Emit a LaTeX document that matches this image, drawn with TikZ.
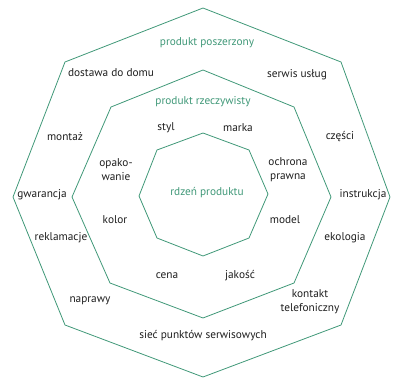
\documentclass[tikz,border=0pt]{standalone}
\usepackage{fontspec}
\setmainfont{PT Sans}
\definecolor{oct}{RGB}{64,152,120}
\definecolor{txt}{RGB}{30,30,30}
\begin{document}
\begin{tikzpicture}[x=1pt,y=-1pt,
  octline/.style={draw=oct,line width=0.8pt,line join=miter},
  lbl/.style={text=txt,font=\fontsize{11.3}{14}\selectfont,inner sep=0pt,align=center},
  glbl/.style={text=oct,font=\fontsize{11.3}{14}\selectfont,inner sep=0pt}]
\useasboundingbox (0,0) rectangle (394,378);
% outer
\coordinate (o1) at (390,197);
\coordinate (o2) at (341,62);
\coordinate (o3) at (203,8);
\coordinate (o4) at (65,62);
\coordinate (o5) at (13,197);
\coordinate (o6) at (65,325);
\coordinate (o7) at (203,377);
\coordinate (o8) at (341,325);
\draw[octline] (o1)--(o2)--(o3)--(o4)--(o5)--(o6)--(o7)--(o8)--cycle;
% middle
\coordinate (m1) at (331,197);
\coordinate (m2) at (294,107);
\coordinate (m3) at (203,70);
\coordinate (m4) at (111,107);
\coordinate (m5) at (72,197);
\coordinate (m6) at (110,283);
\coordinate (m7) at (203,318);
\coordinate (m8) at (294,283);
\draw[octline] (m1)--(m2)--(m3)--(m4)--(m5)--(m6)--(m7)--(m8)--cycle;
% inner
\coordinate (i1) at (268,194);
\coordinate (i2) at (249,150);
\coordinate (i3) at (203,133);
\coordinate (i4) at (157,150);
\coordinate (i5) at (139,196);
\coordinate (i6) at (157,238);
\coordinate (i7) at (203,256);
\coordinate (i8) at (249,238);
\draw[octline] (i1)--(i2)--(i3)--(i4)--(i5)--(i6)--(i7)--(i8)--cycle;
% labels
\node[glbl] (pp) at (207,43) {produkt poszerzony};
\node[glbl] (pr) at (203,102) {produkt rzeczywisty};
\node[glbl] (rp) at (207,193) {rdzeń produktu};
\node[lbl] (dost) at (111,73) {dostawa do domu};
\node[lbl] (serw) at (297,75) {serwis usług};
\node[lbl] (styl) at (166,128) {styl};
\node[lbl] (mark) at (238,128) {marka};
\node[lbl] (mont) at (65,137) {montaż};
\node[lbl] (czes) at (340,137) {części};
\node[lbl] (opak) at (116,170) {opako-\\wanie};
\node[lbl] (ochr) at (288,170) {ochrona\\prawna};
\node[lbl] (gwar) at (42,195) {gwarancja};
\node[lbl] (inst) at (363,195) {instrukcja};
\node[lbl] (kolo) at (115,220) {kolor};
\node[lbl] (mode) at (285,220) {model};
\node[lbl] (rekl) at (61,238) {reklamacje};
\node[lbl] (ekol) at (345,238) {ekologia};
\node[lbl] (cena) at (167,276) {cena};
\node[lbl] (jako) at (240,276) {jakość};
\node[lbl] (napr) at (90,301) {naprawy};
\node[lbl] (kont) at (310,302) {kontakt\\telefoniczny};
\node[lbl] (siec) at (203,336) {sieć punktów serwisowych};
\end{tikzpicture}
\end{document}
